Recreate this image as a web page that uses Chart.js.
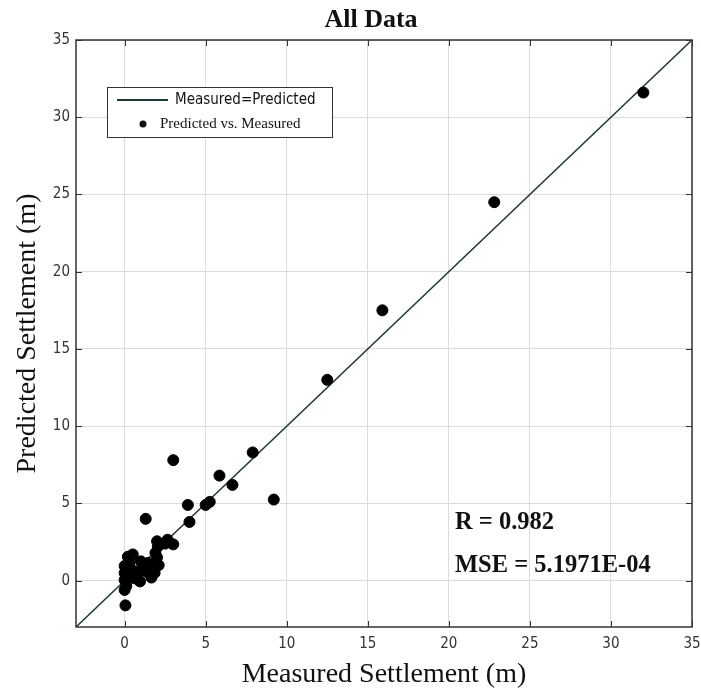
<!DOCTYPE html>
<html>
<head>
<meta charset="utf-8">
<script src="https://cdn.jsdelivr.net/npm/chart.js@4.4.1/dist/chart.umd.min.js"></script>
<style>
    html, body { margin: 0; padding: 0; background: #fff; }
    #wrap { width: 701px; height: 694px; }
</style>
</head>
<body>
<div id="wrap"><canvas id="scatterChart" width="701" height="694"></canvas></div>
<script>
// measured vs predicted settlement (m)
const measured = [
    32.0, 22.8, 15.9, 12.5, 9.2, 7.9, 6.65, 5.85, 5.25, 5.0,
    4.0, 3.9, 3.0, 1.3, 2.65, 3.0, 2.0, 2.05, 0.5, 0.2,
    1.0, 1.45, 1.85, 1.75, 1.65, 0.7, 0.8, 1.1, 0.0, 0.0,
    0.0, 0.1, 0.0, 0.3, 0.4, 0.6, 0.95, 1.45, 0.05, 1.85,
    1.65, 2.5, 1.9, 2.1, 0.15, 0.3, 2.0, 1.2
];
const predicted = [
    31.6, 24.5, 17.5, 13.0, 5.25, 8.3, 6.2, 6.8, 5.1, 4.9,
    3.8, 4.9, 7.8, 4.0, 2.65, 2.35, 2.55, 2.2, 1.7, 1.55,
    1.25, 1.15, 1.1, 0.7, 0.4, 0.6, 0.15, 0.7, 0.95, 0.5,
    0.05, -0.35, -0.6, 1.15, 0.7, 0.15, -0.05, 0.5, -1.6, 0.5,
    0.2, 2.4, 1.8, 1.0, 0.3, 0.9, 1.5, 0.9
];
const lineX = [-3, 35];
const lineY = [-3, 35];
const xTicks = [0, 5, 10, 15, 20, 25, 30, 35];
const yTicks = [0, 5, 10, 15, 20, 25, 30, 35];

const chartTitle = 'All Data';
const statLines = ['R = 0.982', 'MSE = 5.1971E-04'];
const legendLine = 'Measured=Predicted';
const legendPoints = 'Predicted vs. Measured';

const serif = "'Liberation Serif', 'Times New Roman', serif";
const narrow = "'Liberation Sans Narrow', 'DejaVu Sans Condensed', sans-serif";
const lineColor = '#1d3838';

const points = measured.map((m, i) => ({ x: m, y: predicted[i] }));
const diag = lineX.map((v, i) => ({ x: v, y: lineY[i] }));

// frame, inner ticks, title, legend box, stats
const extrasPlugin = {
    id: 'extras',
    afterDraw(chart) {
        const ctx = chart.ctx;
        const a = chart.chartArea;
        const xs = chart.scales.x;
        const ys = chart.scales.y;
        ctx.save();

        ctx.strokeStyle = '#333';
        ctx.lineWidth = 1.5;
        ctx.strokeRect(a.left, a.top, a.right - a.left, a.bottom - a.top);

        ctx.lineWidth = 1;
        ctx.beginPath();
        xTicks.forEach(v => {
            const px = Math.round(xs.getPixelForValue(v)) + 0.5;
            ctx.moveTo(px, a.top); ctx.lineTo(px, a.top + 6);
            ctx.moveTo(px, a.bottom); ctx.lineTo(px, a.bottom - 6);
        });
        yTicks.forEach(v => {
            const py = Math.round(ys.getPixelForValue(v)) + 0.5;
            ctx.moveTo(a.left, py); ctx.lineTo(a.left + 6, py);
            ctx.moveTo(a.right, py); ctx.lineTo(a.right - 6, py);
        });
        ctx.stroke();

        // title
        ctx.fillStyle = '#111';
        ctx.font = 'bold 26px ' + serif;
        ctx.textAlign = 'center';
        ctx.textBaseline = 'middle';
        ctx.fillText(chartTitle, 371, 20);

        // legend
        ctx.fillStyle = '#fff';
        ctx.fillRect(107, 87, 226, 51);
        ctx.strokeStyle = '#333';
        ctx.lineWidth = 1;
        ctx.strokeRect(107.5, 87.5, 225, 50);
        ctx.strokeStyle = lineColor;
        ctx.lineWidth = 2;
        ctx.beginPath();
        ctx.moveTo(117, 100); ctx.lineTo(168, 100);
        ctx.stroke();
        ctx.fillStyle = '#111';
        ctx.beginPath();
        ctx.arc(143, 124, 3.5, 0, Math.PI * 2);
        ctx.fill();
        ctx.textAlign = 'left';
        ctx.font = '15px ' + narrow;
        ctx.fillText(legendLine, 175, 100);
        ctx.font = '15px ' + serif;
        ctx.fillText(legendPoints, 160, 124);

        // stats
        ctx.font = 'bold 24.5px ' + serif;
        ctx.fillText(statLines[0], 455, 523);
        ctx.fillText(statLines[1], 455, 566);
        ctx.restore();
    }
};

new Chart(document.getElementById('scatterChart'), {
    type: 'scatter',
    data: {
        datasets: [
            {
                label: legendPoints,
                data: points,
                backgroundColor: '#000',
                borderColor: '#000',
                pointRadius: 5.5,
                pointHoverRadius: 5.5,
            },
            {
                label: legendLine,
                type: 'line',
                data: diag,
                borderColor: lineColor,
                borderWidth: 1.5,
                pointRadius: 0,
                fill: false,
            },
        ],
    },
    options: {
        responsive: false,
        animation: false,
        layout: {
            padding: { top: 40, right: 9, left: 0, bottom: 0 }
        },
        plugins: {
            legend: { display: false },
            title: { display: false },
            tooltip: { enabled: false },
        },
        scales: {
            x: {
                type: 'linear',
                min: -3,
                max: 35,
                afterBuildTicks: (scale) => { scale.ticks = xTicks.map(v => ({ value: v })); },
                afterFit: (scale) => {
                    scale.height = 67;
                    scale.paddingLeft = 0;
                    scale.paddingRight = 0;
                },
                grid: { color: '#dcdcdc', drawTicks: false },
                border: { display: false },
                ticks: {
                    padding: 8,
                    color: '#333',
                    font: { family: narrow, size: 15 },
                },
                title: {
                    display: true,
                    text: 'Measured Settlement (m)',
                    color: '#111',
                    font: { family: serif, size: 28 },
                    padding: { top: 0, bottom: 3 },
                },
            },
            y: {
                type: 'linear',
                min: -3,
                max: 35,
                afterBuildTicks: (scale) => { scale.ticks = yTicks.map(v => ({ value: v })); },
                afterFit: (scale) => {
                    scale.width = 76;
                    scale.paddingTop = 0;
                    scale.paddingBottom = 0;
                },
                grid: { color: '#dcdcdc', drawTicks: false },
                border: { display: false },
                ticks: {
                    padding: 6,
                    color: '#333',
                    font: { family: narrow, size: 15 },
                },
                title: {
                    display: true,
                    text: 'Predicted Settlement (m)',
                    color: '#111',
                    font: { family: serif, size: 28 },
                    padding: { top: 11, bottom: 0 },
                },
            },
        },
    },
    plugins: [extrasPlugin],
});
</script>
</body>
</html>
